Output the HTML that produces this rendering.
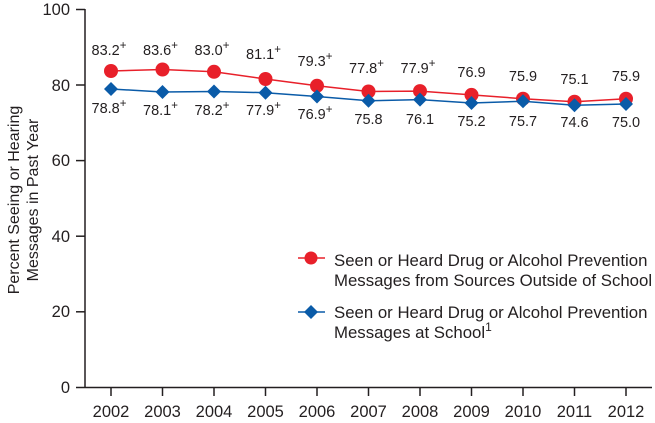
<!DOCTYPE html>
<html><head><style>body{margin:0;background:#fff}svg{display:block}text{font-family:"Liberation Sans",Arial,sans-serif;fill:#231f20}</style></head><body>
<svg width="655" height="423" xmlns="http://www.w3.org/2000/svg">
<g stroke="#231f20" stroke-width="1.5" fill="none">
<line x1="85" y1="9" x2="85" y2="388"/>
<line x1="85" y1="387.5" x2="652" y2="387.5"/>
<line x1="76" y1="9.5" x2="85" y2="9.5"/><line x1="76" y1="85" x2="85" y2="85"/><line x1="76" y1="160.6" x2="85" y2="160.6"/><line x1="76" y1="236.2" x2="85" y2="236.2"/><line x1="76" y1="311.8" x2="85" y2="311.8"/><line x1="76" y1="387.5" x2="85" y2="387.5"/>
<line x1="111" y1="388" x2="111" y2="396"/><line x1="162.5" y1="388" x2="162.5" y2="396"/><line x1="214" y1="388" x2="214" y2="396"/><line x1="265.5" y1="388" x2="265.5" y2="396"/><line x1="317" y1="388" x2="317" y2="396"/><line x1="368.5" y1="388" x2="368.5" y2="396"/><line x1="420" y1="388" x2="420" y2="396"/><line x1="471.5" y1="388" x2="471.5" y2="396"/><line x1="523" y1="388" x2="523" y2="396"/><line x1="574.5" y1="388" x2="574.5" y2="396"/><line x1="626" y1="388" x2="626" y2="396"/>
</g>
<g font-size="16.5" text-anchor="end">
<text x="70" y="15">100</text><text x="70" y="91">80</text><text x="70" y="166">60</text><text x="70" y="242">40</text><text x="70" y="317">20</text><text x="70" y="393">0</text>
</g>
<g font-size="16.5" text-anchor="middle">
<text x="111" y="417">2002</text><text x="162.5" y="417">2003</text><text x="214" y="417">2004</text><text x="265.5" y="417">2005</text><text x="317" y="417">2006</text><text x="368.5" y="417">2007</text><text x="420" y="417">2008</text><text x="471.5" y="417">2009</text><text x="523" y="417">2010</text><text x="574.5" y="417">2011</text><text x="626" y="417">2012</text>
</g>
<text transform="translate(19,200) rotate(-90)" font-size="16" text-anchor="middle">Percent Seeing or Hearing</text>
<text transform="translate(38,200) rotate(-90)" font-size="16" text-anchor="middle">Messages in Past Year</text>
<polyline fill="none" stroke="#0a5ba8" stroke-width="1.5" points="111,89 162.5,92 214,91.5 265.5,92.7 317,96.5 368.5,100.8 420,99.6 471.5,103 523,101.2 574.5,105.3 626,104"/>
<polyline fill="none" stroke="#e8202a" stroke-width="1.5" points="111,71 162.5,69.5 214,71.8 265.5,79 317,85.8 368.5,91.5 420,91.1 471.5,94.9 523,98.7 574.5,101.7 626,98.7"/>
<line x1="298" y1="258" x2="325" y2="258" stroke="#e8202a" stroke-width="1.5"/>
<line x1="298" y1="312" x2="325" y2="312" stroke="#0a5ba8" stroke-width="1.5"/>
<g fill="#e8202a">
<circle cx="111" cy="71" r="7"/><circle cx="162.5" cy="69.5" r="7"/><circle cx="214" cy="71.8" r="7"/><circle cx="265.5" cy="79" r="7"/><circle cx="317" cy="85.8" r="7"/><circle cx="368.5" cy="91.5" r="7"/><circle cx="420" cy="91.1" r="7"/><circle cx="471.5" cy="94.9" r="7"/><circle cx="523" cy="98.7" r="7"/><circle cx="574.5" cy="101.7" r="7"/><circle cx="626" cy="98.7" r="7"/>
<circle cx="311" cy="258" r="6.5"/>
</g>
<g fill="#0a5ba8">
<path d="M111,82 l7,7 -7,7 -7,-7z"/><path d="M162.5,85 l7,7 -7,7 -7,-7z"/><path d="M214,84.5 l7,7 -7,7 -7,-7z"/><path d="M265.5,85.7 l7,7 -7,7 -7,-7z"/><path d="M317,89.5 l7,7 -7,7 -7,-7z"/><path d="M368.5,93.8 l7,7 -7,7 -7,-7z"/><path d="M420,92.6 l7,7 -7,7 -7,-7z"/><path d="M471.5,96 l7,7 -7,7 -7,-7z"/><path d="M523,94.2 l7,7 -7,7 -7,-7z"/><path d="M574.5,98.3 l7,7 -7,7 -7,-7z"/><path d="M626,97 l7,7 -7,7 -7,-7z"/>
<path d="M311,305 l7,7 -7,7 -7,-7z"/>
</g>
<g font-size="14.5" text-anchor="middle">
<text x="109" y="55">83.2<tspan dy="-6" font-size="11.5">+</tspan></text>
<text x="160.5" y="55">83.6<tspan dy="-6" font-size="11.5">+</tspan></text>
<text x="212" y="55">83.0<tspan dy="-6" font-size="11.5">+</tspan></text>
<text x="263.5" y="59">81.1<tspan dy="-6" font-size="11.5">+</tspan></text>
<text x="315" y="66">79.3<tspan dy="-6" font-size="11.5">+</tspan></text>
<text x="366.5" y="73">77.8<tspan dy="-6" font-size="11.5">+</tspan></text>
<text x="418" y="73">77.9<tspan dy="-6" font-size="11.5">+</tspan></text>
<text x="471.5" y="77">76.9</text>
<text x="523" y="81">75.9</text>
<text x="574.5" y="84">75.1</text>
<text x="626" y="81">75.9</text>
<text x="109" y="113">78.8<tspan dy="-6" font-size="11.5">+</tspan></text>
<text x="160.5" y="115">78.1<tspan dy="-6" font-size="11.5">+</tspan></text>
<text x="212" y="115">78.2<tspan dy="-6" font-size="11.5">+</tspan></text>
<text x="263.5" y="115">77.9<tspan dy="-6" font-size="11.5">+</tspan></text>
<text x="315" y="119">76.9<tspan dy="-6" font-size="11.5">+</tspan></text>
<text x="368.5" y="124">75.8</text>
<text x="420" y="124">76.1</text>
<text x="471.5" y="126">75.2</text>
<text x="523" y="126">75.7</text>
<text x="574.5" y="127">74.6</text>
<text x="626" y="127">75.0</text>
</g>
<g font-size="16.8">
<text x="334" y="266">Seen or Heard Drug or Alcohol Prevention</text>
<text x="334" y="286">Messages from Sources Outside of School</text>
<text x="334" y="318">Seen or Heard Drug or Alcohol Prevention</text>
<text x="334" y="338">Messages at School<tspan dy="-7" font-size="12">1</tspan></text>
</g>
</svg>
</body></html>
